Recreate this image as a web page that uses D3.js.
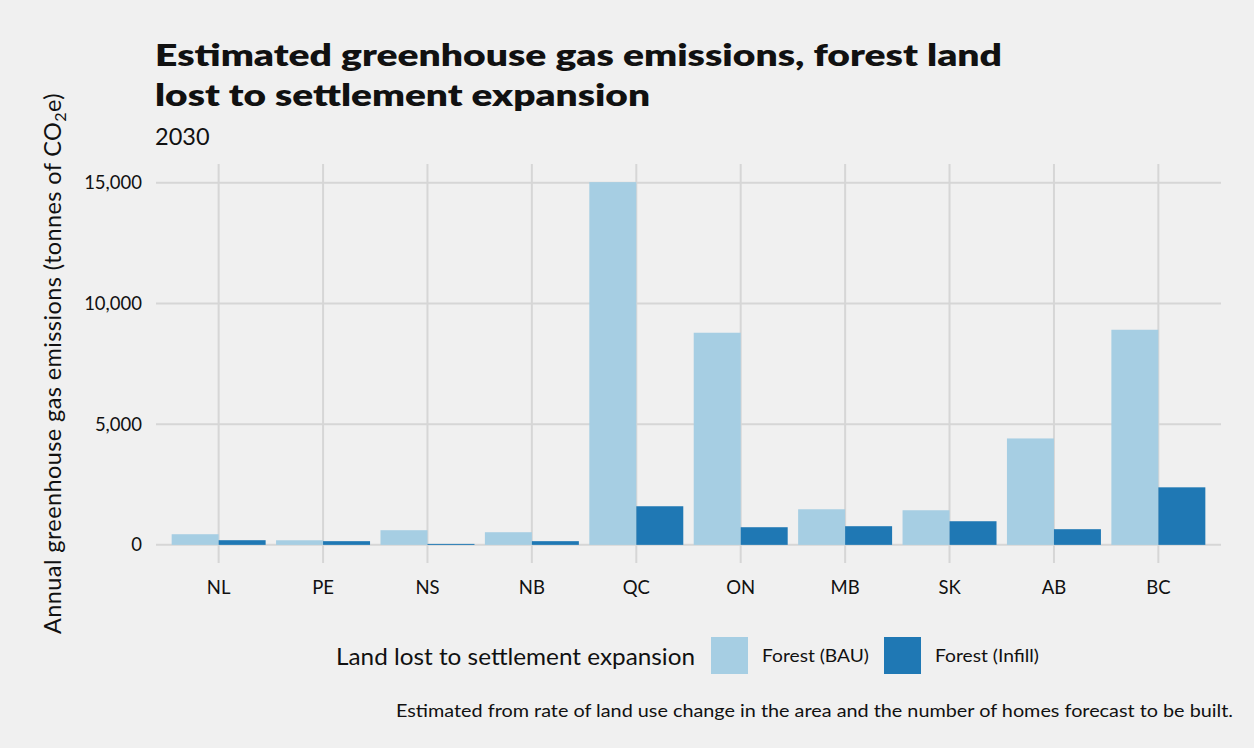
<!DOCTYPE html>
<html>
<head>
<meta charset="utf-8">
<script src="https://cdn.jsdelivr.net/npm/d3@7"></script>
<style>
  html, body { margin: 0; padding: 0; background: #f0f0f0; }
  svg { display: block; }
  text { font-family: Lato, "Noto Sans", sans-serif; fill: #111; }
</style>
</head>
<body>
<svg id="chart" width="1254" height="748"></svg>
<script>
// Provinces along the x axis
const provinces = ["NL", "PE", "NS", "NB", "QC", "ON", "MB", "SK", "AB", "BC"];
// Series names (legend labels)
const seriesNames = ["Forest (BAU)", "Forest (Infill)"];
// Annual emissions, tonnes CO2e, 2030
const bauValues    = [441, 190, 607, 524, 15030, 8790, 1475, 1434, 4409, 8913];
const infillValues = [193, 153, 40, 153, 1600, 731, 773, 979, 649, 2384];
// Y tick values
const yTicks = [0, 5000, 10000, 15000];

const colors = ["#a6cee3", "#1f78b4"];

const W = 1254, H = 748;
const svg = d3.select("#chart");
svg.append("rect").attr("width", W).attr("height", H).attr("fill", "#f0f0f0");

const panel = { left: 156, right: 1221, top: 164, bottom: 563 };

const rows = provinces.map((p, i) => ({ province: p, values: [bauValues[i], infillValues[i]] }));
const maxVal = d3.max(rows, r => d3.max(r.values));

// Discrete scale with 0.6 band expansion each side
const n = provinces.length;
const step = (panel.right - panel.left) / (n - 1 + 1.2);
const x = d3.scaleBand()
  .domain(provinces)
  .range([panel.left + 0.6 * step - step / 2, panel.right - 0.6 * step + step / 2])
  .paddingInner(0.1)
  .paddingOuter(0.05);
const xc = p => x(p) + x.bandwidth() / 2;
const xSub = d3.scaleBand().domain([0, 1]).range([0, x.bandwidth()]);

const y = d3.scaleLinear()
  .domain([-0.05 * maxVal, 1.05 * maxVal])
  .range([panel.bottom, panel.top]);

const grid = svg.append("g");
// horizontal gridlines
grid.selectAll("line.h").data(yTicks).join("line")
  .attr("x1", panel.left).attr("x2", panel.right)
  .attr("y1", d => y(d)).attr("y2", d => y(d))
  .attr("stroke", "#d6d6d6").attr("stroke-width", 2);
// vertical gridlines
grid.selectAll("line.v").data(provinces).join("line")
  .attr("x1", d => xc(d)).attr("x2", d => xc(d))
  .attr("y1", panel.top).attr("y2", panel.bottom)
  .attr("stroke", "#d6d6d6").attr("stroke-width", 2);

// bars
const groups = svg.append("g").selectAll("g").data(rows).join("g")
  .attr("transform", d => `translate(${x(d.province)},0)`);
groups.selectAll("rect").data(d => d.values.map((v, k) => ({ v, k }))).join("rect")
  .attr("x", d => xSub(d.k))
  .attr("width", xSub.bandwidth())
  .attr("y", d => y(d.v))
  .attr("height", d => y(0) - y(d.v))
  .attr("fill", d => colors[d.k]);

// y axis labels
const yAxis = svg.append("g")
  .attr("transform", `translate(${panel.left - 14},0)`)
  .call(d3.axisLeft(y).tickValues(yTicks).tickFormat(d3.format(",")).tickSize(0).tickPadding(0));
yAxis.select(".domain").remove();
yAxis.selectAll("text").attr("font-size", 18.5).attr("font-family", "Lato").attr("fill", "#111");

// x axis labels
const xAxis = svg.append("g")
  .attr("transform", `translate(0,${panel.bottom + 14})`)
  .call(d3.axisBottom(x).tickSize(0).tickPadding(0));
xAxis.select(".domain").remove();
xAxis.selectAll("text").attr("font-size", 18.5).attr("font-family", "Lato").attr("fill", "#111").attr("dy", "0.9em");

// y axis title
const yt = svg.append("text")
  .attr("transform", `translate(61,${(panel.top + panel.bottom) / 2}) rotate(-90)`)
  .attr("text-anchor", "middle")
  .attr("font-size", 23.5)
  .attr("letter-spacing", 0.4);
yt.append("tspan").text("Annual greenhouse gas emissions (tonnes of CO");
yt.append("tspan").text("2").attr("font-size", 16).attr("dy", 5);
yt.append("tspan").text("e)").attr("dy", -5);

// title, subtitle
const titleStyle = sel => sel
  .attr("font-family", "'Open Sans', Lato, sans-serif")
  .attr("font-size", 31).attr("font-weight", 800)
  .attr("lengthAdjust", "spacingAndGlyphs");
svg.append("text").attr("x", 155).attr("y", 66).call(titleStyle)
  .attr("textLength", 847)
  .text("Estimated greenhouse gas emissions, forest land");
svg.append("text").attr("x", 155).attr("y", 106).call(titleStyle)
  .attr("textLength", 495)
  .text("lost to settlement expansion");
svg.append("text").attr("x", 155).attr("y", 145)
  .attr("font-size", 23.5).text("2030");

// legend
const legend = svg.append("g");
legend.append("text").attr("x", 336).attr("y", 665)
  .attr("font-size", 22.5)
  .attr("textLength", 359).attr("lengthAdjust", "spacingAndGlyphs")
  .text("Land lost to settlement expansion");
const keyX = [711, 884];
const keyTextLen = [107, 104];
seriesNames.forEach((name, k) => {
  legend.append("rect").attr("x", keyX[k]).attr("y", 637)
    .attr("width", 37).attr("height", 37).attr("fill", colors[k]);
  legend.append("text").attr("x", keyX[k] + 51).attr("y", 662)
    .attr("font-size", 17.5)
    .attr("textLength", keyTextLen[k]).attr("lengthAdjust", "spacingAndGlyphs")
    .text(name);
});

// caption
svg.append("text").attr("x", 396).attr("y", 717)
  .attr("font-size", 17)
  .attr("textLength", 837).attr("lengthAdjust", "spacingAndGlyphs")
  .text("Estimated from rate of land use change in the area and the number of homes forecast to be built.");
</script>
</body>
</html>
